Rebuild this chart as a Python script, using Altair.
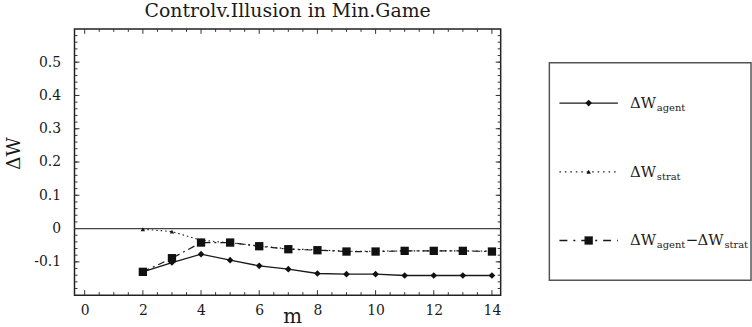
import altair as alt
import pandas as pd

# ---------------- data ----------------
m_values = [2, 3, 4, 5, 6, 7, 8, 9, 10, 11, 12, 13, 14]
w_agent = [-0.130, -0.102, -0.077, -0.095, -0.112, -0.122, -0.135, -0.137, -0.137, -0.141, -0.141, -0.141, -0.141]
w_strat = [-0.002, -0.009, -0.035, -0.043, -0.052, -0.061, -0.064, -0.068, -0.068, -0.067, -0.067, -0.067, -0.068]
w_diff = [-0.130, -0.089, -0.042, -0.042, -0.053, -0.062, -0.065, -0.069, -0.069, -0.067, -0.067, -0.067, -0.069]

x_tick_values = [0, 2, 4, 6, 8, 10, 12, 14]
y_tick_values = [-0.1, 0, 0.1, 0.2, 0.3, 0.4, 0.5]
x_minor_values = [k / 2 for k in range(0, 29) if k % 4 != 0]
y_minor_values = [round(-0.18 + 0.02 * k, 2) for k in range(0, 39)]

title_text = "Controlv.Illusion in Min.Game"
legend_main = ["ΔW", "ΔW", "ΔW"]
legend_sub = ["agent", "strat", "agent"]

# ---------------- geometry ----------------
W, H = 429, 268
X_DOM = [-0.35, 14.3]
Y_DOM = [-0.2, 0.6]
px_x = (X_DOM[1] - X_DOM[0]) / W
px_y = (Y_DOM[1] - Y_DOM[0]) / H
FONT = "DejaVu Serif"
INK = "#1a1a1a"

xs = alt.Scale(domain=X_DOM, nice=False, zero=False)
ys = alt.Scale(domain=Y_DOM, nice=False, zero=False)

x_axis = alt.Axis(values=x_tick_values, title="m", ticks=False, domain=False, grid=False,
                  labelFont=FONT, labelFontSize=14, labelPadding=8, labelColor=INK,
                  titleFont=FONT, titleFontSize=20, titleFontWeight="normal", titleColor=INK,
                  titleY=28, titleX=219, titleBaseline="alphabetic")
y_axis = alt.Axis(values=y_tick_values, title="ΔW", ticks=False, domain=False, grid=False,
                  labelFont=FONT, labelFontSize=14, labelPadding=14, labelColor=INK,
                  labelExpr="replace(format(datum.value, '.1~f'), '\u2212', '-')",
                  titleFont=FONT, titleFontSize=19, titleFontWeight="normal", titleColor=INK,
                  titleX=-55, titleY=125, titleAngle=-90, titleAlign="center",
                  titleBaseline="alphabetic")


def enc_x(field="x"):
    return alt.X(f"{field}:Q", scale=xs, axis=x_axis)


def enc_y(field="y"):
    return alt.Y(f"{field}:Q", scale=ys, axis=y_axis)


# ticks (inward, on all four sides)
rows = []
for v in x_tick_values:
    rows.append(dict(x=v, x2=v, y=Y_DOM[0], y2=Y_DOM[0] + 5 * px_y))
    rows.append(dict(x=v, x2=v, y=Y_DOM[1] - 5 * px_y, y2=Y_DOM[1]))
for v in x_minor_values:
    rows.append(dict(x=v, x2=v, y=Y_DOM[0], y2=Y_DOM[0] + 3 * px_y))
    rows.append(dict(x=v, x2=v, y=Y_DOM[1] - 3 * px_y, y2=Y_DOM[1]))
for v in y_tick_values:
    rows.append(dict(x=X_DOM[0], x2=X_DOM[0] + 5 * px_x, y=v, y2=v))
    rows.append(dict(x=X_DOM[1] - 5 * px_x, x2=X_DOM[1], y=v, y2=v))
for v in y_minor_values:
    rows.append(dict(x=X_DOM[0], x2=X_DOM[0] + 3 * px_x, y=v, y2=v))
    rows.append(dict(x=X_DOM[1] - 3 * px_x, x2=X_DOM[1], y=v, y2=v))
ticks_df = pd.DataFrame(rows)

ticks = alt.Chart(ticks_df).mark_rule(color="#333", strokeWidth=1).encode(
    x=enc_x(), x2="x2:Q", y=enc_y(), y2="y2:Q")

zero = alt.Chart(pd.DataFrame({"y": [0.0]})).mark_rule(color="#444", strokeWidth=1.3).encode(y=enc_y())

df_agent = pd.DataFrame({"x": m_values, "y": w_agent})
df_strat = pd.DataFrame({"x": m_values, "y": w_strat})
df_diff = pd.DataFrame({"x": m_values, "y": w_diff})

strat_line = alt.Chart(df_strat).mark_line(color=INK, strokeWidth=1.1, strokeDash=[1.5, 3]).encode(x=enc_x(), y=enc_y())
strat_pts = alt.Chart(df_strat).mark_point(shape="triangle-up", filled=True, size=20, color=INK, opacity=1).encode(x=enc_x(), y=enc_y())
diff_line = alt.Chart(df_diff).mark_line(color=INK, strokeWidth=1.2, strokeDash=[7, 4, 2, 4]).encode(x=enc_x(), y=enc_y())
diff_pts = alt.Chart(df_diff).mark_point(shape="square", filled=True, size=70, color="#111", opacity=1).encode(x=enc_x(), y=enc_y())
agent_line = alt.Chart(df_agent).mark_line(color=INK, strokeWidth=1.3).encode(x=enc_x(), y=enc_y())
agent_pts = alt.Chart(df_agent).mark_point(shape="diamond", filled=True, size=45, color="#111", opacity=1).encode(x=enc_x(), y=enc_y())

main = alt.layer(ticks, zero, strat_line, diff_line, agent_line, strat_pts, diff_pts, agent_pts).properties(
    width=W, height=H,
    title=alt.TitleParams(title_text, font=FONT, fontSize=19, fontWeight="normal", color=INK, offset=7),
    view=alt.ViewBackground(stroke="#222", strokeWidth=1.5),
)

# ---------------- legend panel ----------------
LX = alt.Scale(domain=[0, 1], nice=False, zero=False)
LY = alt.Scale(domain=[-1.079, 2.795], nice=False, zero=False, reverse=True)

leg = pd.DataFrame({"i": [0, 1, 2], "x0": [0.05] * 3, "x1": [0.34] * 3, "xp": [0.195] * 3,
                    "xt": [0.40] * 3, "main": legend_main, "sub": legend_sub})
box = alt.Chart(pd.DataFrame({"x": [0], "x2": [1], "y": [-0.588], "y2": [2.577]})).mark_rect(
    fill="white", stroke="#555", strokeWidth=1.5).encode(
    x=alt.X("x:Q", scale=LX, axis=None), x2="x2:Q", y=alt.Y("y:Q", scale=LY, axis=None), y2="y2:Q")


def leg_seg(idx, dash, shape, size):
    d = leg[leg["i"] == idx]
    kw = dict(color=INK, strokeWidth=1.3)
    if dash:
        kw["strokeDash"] = dash
    seg = alt.Chart(d).mark_rule(**kw).encode(
        x=alt.X("x0:Q", scale=LX, axis=None), x2="x1:Q", y=alt.Y("i:Q", scale=LY, axis=None))
    pt = alt.Chart(d).mark_point(shape=shape, filled=True, size=size, color="#111", opacity=1).encode(
        x=alt.X("xp:Q", scale=LX, axis=None), y=alt.Y("i:Q", scale=LY, axis=None))
    return [seg, pt]


layers = [box]
layers += leg_seg(0, None, "diamond", 45)
layers += leg_seg(1, [1.5, 4], "triangle-up", 20)
layers += leg_seg(2, [8, 6, 2, 6], "square", 70)


def leg_text(df, field, dx, dy, size):
    return alt.Chart(df).mark_text(align="left", baseline="alphabetic", dx=dx, dy=dy, font=FONT,
                                   fontSize=size, color=INK).encode(
        x=alt.X("xt:Q", scale=LX, axis=None), y=alt.Y("i:Q", scale=LY, axis=None), text=f"{field}:N")


row2 = leg[leg["i"] == 2].assign(minus="−", main2="ΔW", sub2="strat")
layers += [
    leg_text(leg, "main", 0, 5, 15),
    leg_text(leg, "sub", 27, 8, 10),
    leg_text(row2, "minus", 56, 5, 15),
    leg_text(row2, "main2", 68, 5, 15),
    leg_text(row2, "sub2", 95, 8, 10),
]

legend = alt.layer(*layers).properties(width=203, height=H,
                                       view=alt.ViewBackground(strokeOpacity=0))

chart = alt.hconcat(main, legend, spacing=46).properties(
    padding={"left": 4, "top": 0, "right": 0, "bottom": 0}
).configure(font=FONT, background="white")

chart.save("out.html", embed_options={"renderer": "svg", "actions": False})
